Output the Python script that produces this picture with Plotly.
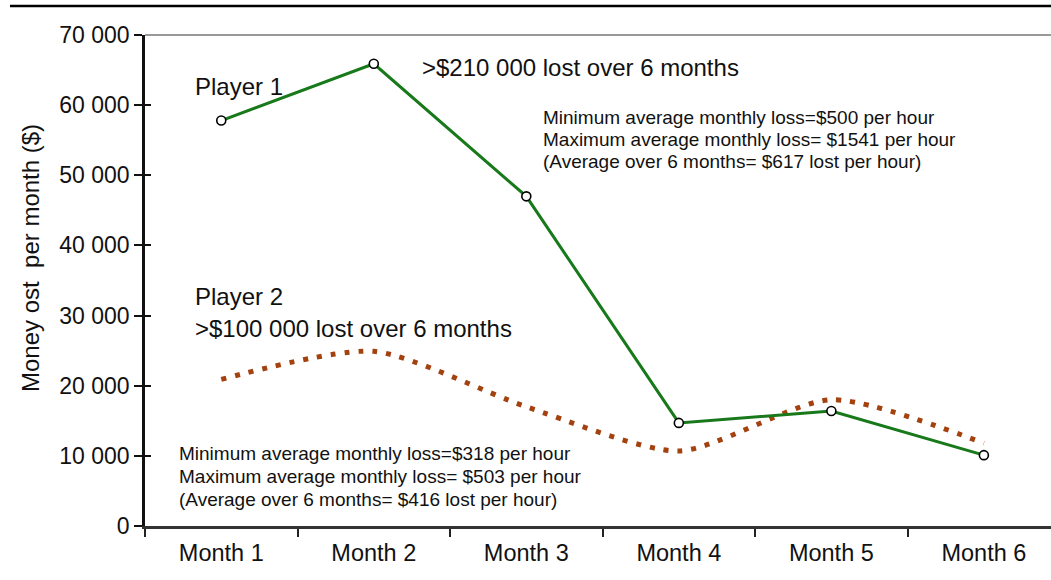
import plotly.graph_objects as go

months = ["Month 1", "Month 2", "Month 3", "Month 4", "Month 5", "Month 6"]
player1 = [57800, 65900, 47000, 14700, 16400, 10100]
player2 = [20900, 24900, 17000, 10700, 18000, 11800]
y_ticks = [0, 10000, 20000, 30000, 40000, 50000, 60000, 70000]
y_tick_labels = ["0", "10 000", "20 000", "30 000", "40 000", "50 000", "60 000", "70 000"]

W, H = 1051, 580
L, R, T, B = 145, 0, 35, 54
PW, PH = W - L - R, H - T - B
XMIN, XMAX = -0.5, 5.44
YMAX = 70000

def px2x(px):
    return XMIN + (px - L) / PW * (XMAX - XMIN)

def py2y(py):
    return (H - B - py) / PH * YMAX

FONT = "Arial, 'Liberation Sans', sans-serif"
BIG, SMALL = 24, 19

fig = go.Figure()
fig.add_trace(go.Scatter(
    x=months, y=player2, mode="lines",
    line=dict(color="#A3410F", width=5, dash="5px,9px", shape="spline", smoothing=0.7),
    showlegend=False, hoverinfo="skip"))
fig.add_trace(go.Scatter(
    x=months, y=player1, mode="lines+markers",
    line=dict(color="#17791A", width=3),
    marker=dict(symbol="circle", size=9, color="white", line=dict(color="black", width=1.6)),
    showlegend=False))

texts = [
    ("Player 1", 193, 86, BIG),
    (">$210 000 lost over 6 months", 420, 67, BIG),
    ("Minimum average monthly loss=$500 per hour", 541, 117, SMALL),
    ("Maximum average monthly loss= $1541 per hour", 541, 139, SMALL),
    ("(Average over 6 months= $617 lost per hour)", 541, 161, SMALL),
    ("Player 2", 193, 296, BIG),
    (">$100 000 lost over 6 months", 193, 328, BIG),
    ("Minimum average monthly loss=$318 per hour", 177, 453, SMALL),
    ("Maximum average monthly loss= $503 per hour", 177, 476, SMALL),
    ("(Average over 6 months= $416 lost per hour)", 177, 499, SMALL),
]
for t, px, py, fs in texts:
    fig.add_annotation(x=px2x(px), y=py2y(py), xref="x", yref="y", text=t,
                       showarrow=False, xanchor="left", yanchor="middle",
                       font=dict(family=FONT, size=fs, color="#111"))

fig.add_annotation(x=0, y=py2y(258), xref="paper", yref="y", xshift=30 - L,
                   text="Money ost\u00a0 per month ($)", textangle=-90, showarrow=False,
                   xanchor="center", yanchor="middle",
                   font=dict(family=FONT, size=24, color="#111"))

# top gray line along 70 000 and page rule
fig.add_shape(type="line", xref="paper", yref="paper", x0=0, x1=1, y0=1, y1=1,
              line=dict(color="#999999", width=2), layer="above")
fig.add_shape(type="line", xref="paper", yref="paper", x0=(10 - L) / PW, x1=1,
              y0=(H - B - 6) / PH, y1=(H - B - 6) / PH, line=dict(color="black", width=2.5))

fig.update_layout(
    width=W, height=H,
    margin=dict(l=L, r=R, t=T, b=B, pad=0),
    paper_bgcolor="white", plot_bgcolor="white",
    xaxis=dict(type="category", range=[XMIN, XMAX], tickson="boundaries",
               ticks="outside", ticklen=8, tickwidth=2, tickcolor="#222",
               ticklabelstandoff=4,
               showline=True, linecolor="#333", linewidth=2.5, showgrid=False, zeroline=False,
               tickfont=dict(family=FONT, size=23.5, color="#111")),
    yaxis=dict(range=[0, YMAX], tickvals=y_ticks, ticktext=y_tick_labels,
               ticks="outside", ticklen=8, tickwidth=2, tickcolor="#111",
               showline=True, linecolor="#111", linewidth=2.5, showgrid=False, zeroline=False,
               tickfont=dict(family=FONT, size=23, color="#111")),
    yaxis2=dict(range=[0, YMAX], overlaying="y", side="left", tickvals=y_ticks,
                ticks="inside", ticklen=6, tickwidth=2, tickcolor="#111",
                showticklabels=False, showline=False, showgrid=False, zeroline=False),
)
fig.add_trace(go.Scatter(x=[], y=[], yaxis="y2", showlegend=False))

fig.write_html("out.html", config={"displayModeBar": False})
with open("out.html", "r", encoding="utf-8") as f:
    html = f.read()
html = html.replace("<body>", '<body style="margin:0;padding:0;overflow:hidden">', 1)
with open("out.html", "w", encoding="utf-8") as f:
    f.write(html)
